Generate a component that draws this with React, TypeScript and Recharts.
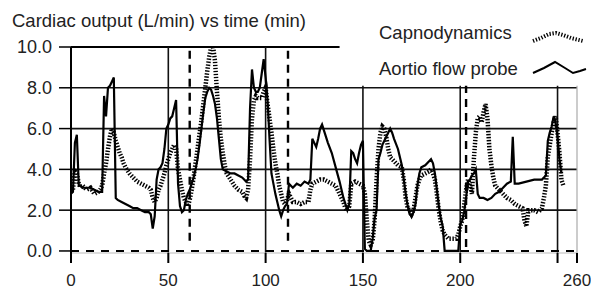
import React from 'react';
import { LineChart, Line, XAxis, YAxis, ReferenceLine } from 'recharts';

// Aortic flow probe (time in min, CO in L/min)
const aorticTime = [
  0, 1, 2, 3, 4, 5, 6, 8, 10, 12, 14, 16, 17, 18, 19, 20, 21, 22, 23, 24, 26, 28, 30, 32, 34, 36, 38, 40, 41, 42, 43,
  44, 45, 46, 47, 48, 49, 50, 51, 52, 53, 54, 55, 56, 57, 58, 59, 60, 61, 62, 63, 64, 65, 66, 67, 68, 69, 70, 71, 72,
  73, 74, 75, 76, 77, 78, 80, 82, 84, 86, 88, 90, 91, 92, 93, 94, 95, 96, 97, 98, 99, 100, 101, 102, 103, 104, 105,
  106, 107, 108, 109, 110, 111, 112, 113, 114, 116, 118, 120, 122, 123, 124, 125, 126, 127, 128, 129, 130, 132, 134,
  136, 138, 140, 142, 143, 144, 145, 146, 147, 148, 149, 150, 151, 152, 154, 155, 156, 157, 158, 159, 160, 161, 162,
  163, 164, 165, 166, 168, 170, 171, 172, 173, 174, 175, 176, 177, 178, 179, 180, 182, 184, 185, 186, 187, 188, 189,
  190, 191, 192, 195, 199, 200, 201, 202, 203, 204, 205, 206, 207, 208, 209, 210, 212, 214, 216, 218, 220, 222, 224,
  226, 227, 228, 230, 234, 238, 242, 244, 245, 246, 247, 248, 249, 250, 251, 252,
];
const aorticCO = [
  2.8, 2.9, 5.3, 5.7, 3.2, 3.2, 3.1, 3.1, 3.1, 3.0, 2.9, 2.9, 7.6, 6.6, 8.0, 8.1, 8.3, 8.5, 2.6, 2.5, 2.4, 2.3, 2.2,
  2.1, 2.1, 2.0, 1.9, 1.9, 1.8, 1.1, 1.7, 3.5, 4.0, 4.1, 4.3, 5.0, 6.0, 6.2, 6.5, 6.6, 7.0, 7.4, 3.3, 2.2, 1.9, 2.0,
  2.5, 2.8, 3.0, 3.3, 3.6, 4.0, 4.5, 5.2, 6.0, 6.8, 7.5, 7.8, 8.0, 7.9, 7.6, 7.2, 6.5, 5.5, 4.5, 4.0, 3.9, 3.8, 3.8,
  3.7, 3.6, 3.4, 3.5, 7.0, 8.9, 8.0, 7.8, 7.8, 8.0, 8.7, 9.4, 8.5, 7.4, 5.5, 3.8, 3.3, 2.8, 2.4, 2.0, 1.7, 2.0, 2.2,
  2.3, 3.3, 3.2, 3.1, 3.3, 3.2, 3.4, 3.3, 3.5, 5.5, 5.3, 5.1, 5.5, 6.0, 6.2, 5.9, 5.3, 4.8, 4.1, 3.4, 2.6, 2.0, 2.3,
  4.9, 4.8, 4.5, 4.3, 4.8, 5.2, 5.4, 0.1, 0.0, 0.0, 0.6, 1.6, 2.0, 4.5, 4.8, 5.2, 5.4, 5.6, 5.8, 6.0, 5.8, 5.5, 5.0,
  4.2, 3.5, 2.8, 2.2, 1.8, 1.7, 1.9, 2.3, 3.2, 3.8, 4.1, 4.2, 4.4, 4.5, 4.3, 3.8, 3.0, 2.2, 1.6, 1.2, 0.0, 0.0, 0.0,
  1.3, 1.5, 1.9, 2.6, 3.4, 3.5, 3.7, 3.8, 4.0, 2.8, 2.6, 2.6, 2.5, 2.6, 2.8, 2.9, 3.1, 3.3, 3.4, 5.6, 3.3, 3.3, 3.4,
  3.5, 3.5, 3.7, 5.4, 5.8, 6.1, 6.6, 6.3, 5.6, 4.5, 3.8,
];

// Capnodynamics
const capnoTime = [
  0, 1, 2, 3, 4, 5, 6, 8, 10, 12, 14, 15, 16, 17, 18, 19, 20, 21, 22, 23, 24, 25, 26, 27, 28, 30, 32, 34, 36, 38, 40,
  41, 42, 43, 44, 45, 46, 47, 48, 49, 50, 51, 52, 53, 54, 55, 56, 57, 58, 59, 60, 61, 62, 63, 64, 65, 66, 67, 68, 69,
  70, 71, 72, 73, 74, 75, 76, 77, 78, 79, 80, 82, 84, 86, 88, 89, 90, 91, 92, 93, 94, 95, 96, 98, 99, 100, 101, 102,
  103, 104, 105, 106, 107, 108, 109, 110, 111, 112, 113, 114, 116, 118, 120, 122, 123, 124, 126, 128, 130, 132, 134,
  136, 138, 140, 141, 142, 143, 144, 146, 148, 150, 151, 152, 153, 154, 155, 156, 157, 158, 159, 160, 161, 162, 163,
  164, 166, 168, 170, 171, 172, 173, 174, 175, 176, 177, 178, 179, 180, 182, 184, 185, 186, 187, 188, 189, 190, 191,
  192, 194, 196, 198, 199, 200, 201, 202, 203, 204, 205, 206, 207, 208, 209, 210, 211, 212, 213, 214, 215, 216, 217,
  218, 220, 222, 224, 226, 228, 230, 232, 233, 234, 235, 236, 238, 240, 242, 243, 244, 245, 246, 247, 248, 249, 250,
  251, 252, 253,
];
const capnoCO = [
  2.9, 3.0, 3.9, 3.8, 3.3, 3.1, 3.2, 3.0, 3.1, 2.8, 2.9, 3.0, 3.2, 3.8, 4.3, 5.0, 5.6, 6.0, 5.8, 5.4, 5.1, 4.8, 4.6,
  4.3, 4.1, 3.8, 3.6, 3.4, 3.3, 3.2, 3.1, 3.0, 2.6, 2.4, 2.6, 3.0, 3.2, 3.5, 3.8, 4.2, 4.5, 4.8, 5.0, 5.2, 5.0, 4.0,
  3.5, 3.0, 2.6, 2.4, 2.2, 2.5, 3.0, 3.6, 4.3, 5.0, 5.7, 6.4, 7.2, 8.0, 8.8, 9.5, 10.0, 10.0, 9.3, 7.8, 6.5, 5.5, 4.8,
  4.2, 3.8, 3.5, 3.2, 3.0, 2.9, 2.7, 2.6, 3.0, 4.5, 6.5, 7.4, 7.6, 7.5, 7.5, 7.8, 8.0, 7.2, 6.5, 5.8, 5.0, 4.3, 3.8,
  3.2, 2.8, 2.4, 2.3, 2.5, 2.8, 2.6, 2.4, 2.4, 2.3, 2.4, 2.4, 3.0, 3.3, 3.4, 3.5, 3.5, 3.4, 3.3, 3.2, 2.8, 2.4, 2.1,
  2.0, 2.2, 3.3, 3.4, 3.3, 3.2, 2.8, 1.5, 0.5, 0.3, 0.5, 1.5, 3.5, 5.0, 5.8, 6.1, 6.0, 5.6, 5.0, 4.6, 4.4, 4.2, 4.1,
  3.5, 2.6, 2.1, 2.0, 1.8, 2.0, 2.6, 3.2, 3.5, 3.7, 3.8, 3.9, 4.0, 3.8, 3.5, 2.8, 2.0, 1.4, 1.0, 0.8, 0.6, 0.6, 0.6,
  0.8, 1.2, 1.5, 2.2, 3.0, 3.5, 3.2, 2.8, 4.5, 5.8, 6.5, 6.6, 6.3, 6.8, 7.2, 6.5, 5.0, 4.2, 3.6, 3.2, 3.0, 2.8, 2.6,
  2.5, 2.3, 2.2, 2.1, 1.5, 1.2, 2.0, 2.0, 2.0, 1.9, 2.1, 2.6, 3.2, 4.6, 5.2, 5.8, 6.3, 6.6, 5.8, 4.8, 3.5, 3.2,
];

const xTicks = [0, 50, 100, 150, 200, 250, 260];
const yTicks = [0, 2, 4, 6, 8, 10];
const gridY = [2, 4, 6, 8];
const fullGridX = [50, 100];
const shortGridX = [150, 200, 250];
const eventTimes = [61, 111.5];
const lateEvent = 203;

const aortic = aorticTime.map((t, i) => ({ t, co: aorticCO[i] }));
const capno = capnoTime.map((t, i) => ({ t, co: capnoCO[i] }));

const font = '"Liberation Sans", Arial, sans-serif';

export default function App() {
  return (
    <div style={{ position: 'absolute', left: 0, top: 0, width: 591, height: 289, background: '#fff' }}>
      <LineChart width={591} height={289} margin={{ top: 47, right: 14, bottom: 0, left: 0 }}>
        <XAxis
          type="number"
          dataKey="t"
          domain={[0, 260]}
          ticks={xTicks}
          tickFormatter={(v) => (v === 250 ? '' : String(v))}
          height={36}
          axisLine={{ stroke: '#bbb', strokeWidth: 1 }}
          tickLine={{ stroke: '#000', strokeWidth: 2 }}
          tickSize={10}
          tickMargin={11}
          tick={{ fontSize: 17, fill: '#222', fontFamily: font }}
          allowDataOverflow
        />
        <YAxis
          type="number"
          domain={[-0.1, 10]}
          ticks={yTicks}
          tickFormatter={(v) => v.toFixed(1)}
          width={71}
          axisLine={{ stroke: '#000', strokeWidth: 2 }}
          tickLine={{ stroke: '#000', strokeWidth: 1.5 }}
          tickSize={12}
          tickMargin={7}
          tick={{ fontSize: 18, fill: '#222', fontFamily: font }}
          allowDataOverflow
        />
        {gridY.map((y) => (
          <ReferenceLine key={'gy' + y} y={y} stroke="#111" strokeWidth={1.6} />
        ))}
        <ReferenceLine segment={[{ x: 0, y: 10 }, { x: 138, y: 10 }]} stroke="#000" strokeWidth={2} />
        {fullGridX.map((x) => (
          <ReferenceLine key={'fx' + x} segment={[{ x, y: -0.1 }, { x, y: 10 }]} stroke="#111" strokeWidth={1.6} />
        ))}
        {shortGridX.map((x) => (
          <ReferenceLine key={'sx' + x} segment={[{ x, y: -0.1 }, { x, y: 8.1 }]} stroke="#111" strokeWidth={1.6} />
        ))}
        <ReferenceLine segment={[{ x: 260, y: -0.1 }, { x: 260, y: 8.1 }]} stroke="#aaa" strokeWidth={1.2} />
        {eventTimes.map((x) => (
          <ReferenceLine key={'ev' + x} segment={[{ x, y: 0.5 }, { x, y: 10 }]} stroke="#000" strokeWidth={2.4} strokeDasharray="8 6" />
        ))}
        <ReferenceLine segment={[{ x: lateEvent, y: 0.2 }, { x: lateEvent, y: 8.1 }]} stroke="#000" strokeWidth={2.4} strokeDasharray="8 6" />
        <ReferenceLine segment={[{ x: 0, y: 0 }, { x: 260, y: 0 }]} stroke="#000" strokeWidth={2} strokeDasharray="8 7" />
        <Line
          data={capno}
          dataKey="co"
          type="linear"
          stroke="#000"
          strokeWidth={4.5}
          strokeDasharray="1.4 1.6"
          dot={false}
          isAnimationActive={false}
        />
        <Line
          data={aortic}
          dataKey="co"
          type="linear"
          stroke="#000"
          strokeWidth={2.2}
          dot={false}
          isAnimationActive={false}
        />
      </LineChart>
      <svg width={591} height={289} style={{ position: 'absolute', left: 0, top: 0, pointerEvents: 'none' }}>
        <text x={12} y={27} fontSize={18.5} fill="#222" fontFamily={font}>
          Cardiac output (L/min) vs time (min)
        </text>
        <text x={379} y={39} fontSize={18.5} fill="#222" fontFamily={font}>
          Capnodynamics
        </text>
        <text x={379} y={75} fontSize={18.5} fill="#222" fontFamily={font}>
          Aortio flow probe
        </text>
        <polyline
          points="533,41 541,38 549,34 556,33 563,35 571,38 583,41"
          fill="none"
          stroke="#000"
          strokeWidth={4}
          strokeDasharray="1.3 1.7"
        />
        <polyline
          points="533,73 544,68 555,62 565,68 573,73 580,71 586,69"
          fill="none"
          stroke="#000"
          strokeWidth={2}
        />
      </svg>
    </div>
  );
}
